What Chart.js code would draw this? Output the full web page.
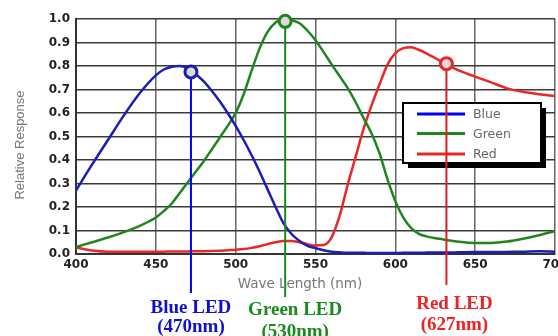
<!DOCTYPE html>
<html>
<head>
<meta charset="utf-8">
<script src="https://cdn.jsdelivr.net/npm/chart.js@4"></script>
<style>
    html, body { margin: 0; padding: 0; background: #fff; overflow: hidden; }
    #wrap { width: 572px; height: 336px; }
</style>
</head>
<body>
<div id="wrap"><canvas id="ledChart" width="572" height="336"></canvas></div>
<script>
// wavelengths in nm: 10 nm steps at the ends, 5 nm where the curves bend
const wavelengths = [400, 410, 420, 430, 440,
    450, 455, 460, 465, 470, 475, 480, 485, 490, 495, 500, 505, 510, 515, 520, 525, 530, 535,
    540, 545, 550, 555, 560, 565, 570, 575, 580, 585, 590, 595, 600, 605, 610, 615, 620,
    630, 640, 650, 660, 670, 680, 690, 700];

const blueResponse = [0.27, 0.38, 0.485, 0.59, 0.685,
    0.76, 0.785, 0.797, 0.8, 0.79, 0.765, 0.735, 0.695, 0.65, 0.6, 0.545, 0.485, 0.42, 0.35, 0.275, 0.2, 0.13, 0.085,
    0.055, 0.035, 0.025, 0.016, 0.01, 0.007, 0.005, 0.005, 0.005, 0.004, 0.004, 0.004, 0.004, 0.005, 0.005, 0.005, 0.006,
    0.006, 0.007, 0.008, 0.008, 0.009, 0.01, 0.012, 0.01];

const greenResponse = [0.03, 0.05, 0.07, 0.093, 0.12,
    0.155, 0.183, 0.215, 0.26, 0.305, 0.35, 0.395, 0.445, 0.495, 0.545, 0.60, 0.68, 0.78, 0.875, 0.945, 0.985, 0.998, 0.995,
    0.982, 0.95, 0.91, 0.86, 0.808, 0.758, 0.708, 0.648, 0.58, 0.515, 0.43, 0.32, 0.225, 0.155, 0.11, 0.085, 0.074,
    0.062, 0.052, 0.047, 0.047, 0.053, 0.065, 0.08, 0.097];

const redResponse = [0.028, 0.015, 0.01, 0.01, 0.01,
    0.01, 0.01, 0.011, 0.011, 0.011, 0.012, 0.012, 0.013, 0.014, 0.016, 0.018, 0.021, 0.026, 0.033, 0.042, 0.05, 0.055, 0.055,
    0.05, 0.042, 0.036, 0.038, 0.07, 0.16, 0.29, 0.41, 0.53, 0.63, 0.72, 0.805, 0.855, 0.876, 0.88, 0.868, 0.852,
    0.815, 0.78, 0.755, 0.73, 0.705, 0.69, 0.68, 0.672];

const seriesNames = ['Blue', 'Green', 'Red'];
const seriesColors = ['#1c1cb8', '#1f861f', '#e82828'];

// LED markers: peak circle and the drop line below the axis
const ledPeakNm = [472, 531, 632];
const ledPeakResponse = [0.775, 0.99, 0.81];
const ledLineEnd = [-0.166, -0.183, -0.132];
const ledLineColors = ['#0000ff', '#1a8a1a', '#d82020'];
const ledNames = ['Blue LED', 'Green LED', 'Red LED'];
const ledPeakLabels = ['(470nm)', '(530nm)', '(627nm)'];
const ledTextColors = ['#1010d0', '#1a8a1a', '#ee2222'];

const toPoints = values => wavelengths.map((w, i) => ({ x: w, y: values[i] }));

const ledDatasets = ledPeakNm.map((nm, i) => ({
    label: ledNames[i],
    data: [{ x: nm, y: ledPeakResponse[i] }, { x: nm, y: ledLineEnd[i] }],
    borderColor: ledLineColors[i],
    borderWidth: 2,
    pointRadius: [6, 0],
    pointBorderWidth: 3,
    pointBorderColor: seriesColors[i],
    pointBackgroundColor: '#dcdcdc',
    clip: false
}));

const curveDatasets = [blueResponse, greenResponse, redResponse].map((values, i) => ({
    label: seriesNames[i],
    data: toPoints(values),
    borderColor: seriesColors[i],
    borderWidth: 2.5,
    pointRadius: 0,
    cubicInterpolationMode: 'monotone'
}));

const annotations = {
    id: 'annotations',
    beforeDatasetsDraw(chart) {
        // legend box sits under the LED drop lines
        const ctx = chart.ctx;
        ctx.save();
        ctx.fillStyle = '#000';
        ctx.fillRect(408, 108, 138, 60);
        ctx.fillStyle = '#fff';
        ctx.fillRect(403, 103, 138, 60);
        ctx.strokeStyle = '#000';
        ctx.lineWidth = 2;
        ctx.strokeRect(403, 103, 138, 60);

        const rows = [114, 133.5, 154];
        ctx.font = '12.5px "DejaVu Sans"';
        ctx.textAlign = 'left';
        ctx.textBaseline = 'middle';
        seriesNames.forEach((name, i) => {
            ctx.strokeStyle = i === 0 ? '#0000ee' : seriesColors[i];
            ctx.lineWidth = 3;
            ctx.beginPath();
            ctx.moveTo(417, rows[i]);
            ctx.lineTo(465, rows[i]);
            ctx.stroke();
            ctx.fillStyle = '#666';
            ctx.fillText(name, 473, rows[i] + 1);
        });
        ctx.restore();
    },
    afterDraw(chart) {
        const ctx = chart.ctx;
        const xScale = chart.scales.x;
        ctx.save();

        ctx.fillStyle = '#777';
        ctx.textAlign = 'center';
        ctx.textBaseline = 'middle';
        ctx.font = '13.5px "DejaVu Sans"';
        ctx.fillText('Wave Length (nm)', 300, 284);

        ctx.save();
        ctx.translate(20, 145);
        ctx.rotate(-Math.PI / 2);
        ctx.font = '13px "Liberation Sans"';
        ctx.fillText('Relative Response', 0, 0);
        ctx.restore();

        // LED captions under the axis
        const offsets = [0, 10, 8];
        const baselines = [[313, 332], [315, 337], [309, 330]];
        ctx.font = 'bold 19px "Liberation Serif"';
        ctx.textBaseline = 'alphabetic';
        ledNames.forEach((name, i) => {
            const cx = xScale.getPixelForValue(ledPeakNm[i]) + offsets[i];
            ctx.fillStyle = ledTextColors[i];
            ctx.fillText(name, cx, baselines[i][0]);
            ctx.fillText(ledPeakLabels[i], cx, baselines[i][1]);
        });
        ctx.restore();
    }
};

new Chart(document.getElementById('ledChart'), {
    type: 'line',
    data: { datasets: [...ledDatasets, ...curveDatasets] },
    options: {
        responsive: false,
        animation: false,
        layout: { padding: { top: 19, right: 17, bottom: 0, left: 0 } },
        plugins: {
            legend: { display: false },
            tooltip: { enabled: false }
        },
        scales: {
            x: {
                type: 'linear',
                min: 400,
                max: 700,
                ticks: {
                    stepSize: 50,
                    autoSkip: false,
                    maxRotation: 0,
                    padding: 4,
                    color: '#222',
                    font: { family: 'DejaVu Sans', weight: 'bold', size: 12 }
                },
                grid: { color: '#666', lineWidth: 1.5, drawTicks: false },
                border: { color: '#333', width: 2 },
                afterFit(scale) { scale.height = 82; }
            },
            y: {
                min: 0,
                max: 1,
                ticks: {
                    stepSize: 0.1,
                    padding: 6,
                    color: '#222',
                    font: { family: 'DejaVu Sans', weight: 'bold', size: 12 },
                    callback: v => v.toFixed(1)
                },
                grid: { color: '#3a3a3a', lineWidth: 1.5, drawTicks: false },
                border: { color: '#333', width: 2 },
                afterFit(scale) { scale.width = 76; }
            }
        }
    },
    plugins: [annotations]
});
</script>
</body>
</html>
